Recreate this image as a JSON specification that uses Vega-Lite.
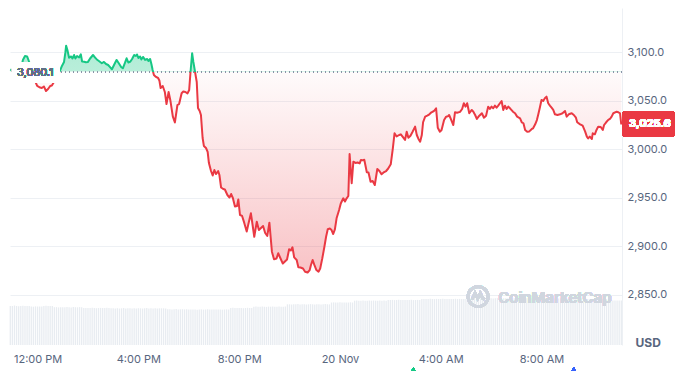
{
"$schema":"https://vega.github.io/schema/vega-lite/v6.json",
"autosize":{"type":"none"},
"padding":{"left":10,"top":8,"right":67,"bottom":26},
"width":612,"height":337,
"background":"#ffffff",
"config":{"view":{"stroke":null},"font":"Inter","axis":{"labelFont":"Inter","titleFont":"Inter"}},
"datasets":{
"price":[
{"t":"2024-11-19T10:55Z","p":3082.3},{"t":"2024-11-19T10:59Z","p":3081.2},{"t":"2024-11-19T11:06Z","p":3077.6},{"t":"2024-11-19T11:13Z","p":3076.6},{"t":"2024-11-19T11:20Z","p":3081.8},{"t":"2024-11-19T11:25Z","p":3092.1},{"t":"2024-11-19T11:30Z","p":3096.2},{"t":"2024-11-19T11:35Z","p":3095.7},{"t":"2024-11-19T11:40Z","p":3090.0},{"t":"2024-11-19T11:44Z","p":3081.8},
{"t":"2024-11-19T11:51Z","p":3073.5},{"t":"2024-11-19T11:59Z","p":3065.3},{"t":"2024-11-19T12:06Z","p":3063.7},{"t":"2024-11-19T12:10Z","p":3063.2},{"t":"2024-11-19T12:15Z","p":3064.8},{"t":"2024-11-19T12:20Z","p":3060.1},{"t":"2024-11-19T12:25Z","p":3062.2},{"t":"2024-11-19T12:30Z","p":3065.3},{"t":"2024-11-19T12:34Z","p":3065.8},{"t":"2024-11-19T12:39Z","p":3069.4},
{"t":"2024-11-19T12:44Z","p":3073.5},{"t":"2024-11-19T12:49Z","p":3077.6},{"t":"2024-11-19T12:53Z","p":3080.7},{"t":"2024-11-19T12:58Z","p":3085.9},{"t":"2024-11-19T13:03Z","p":3090.0},{"t":"2024-11-19T13:06Z","p":3099.3},{"t":"2024-11-19T13:08Z","p":3106.8},{"t":"2024-11-19T13:11Z","p":3102.4},{"t":"2024-11-19T13:15Z","p":3094.4},{"t":"2024-11-19T13:20Z","p":3095.7},
{"t":"2024-11-19T13:23Z","p":3093.6},{"t":"2024-11-19T13:27Z","p":3097.2},{"t":"2024-11-19T13:30Z","p":3093.6},{"t":"2024-11-19T13:34Z","p":3096.2},{"t":"2024-11-19T13:39Z","p":3094.6},{"t":"2024-11-19T13:43Z","p":3097.9},{"t":"2024-11-19T13:46Z","p":3090.5},{"t":"2024-11-19T13:51Z","p":3090.3},{"t":"2024-11-19T13:55Z","p":3089.8},{"t":"2024-11-19T14:00Z","p":3090.1},
{"t":"2024-11-19T14:05Z","p":3093.6},{"t":"2024-11-19T14:12Z","p":3097.2},{"t":"2024-11-19T14:17Z","p":3094.6},{"t":"2024-11-19T14:21Z","p":3092.6},{"t":"2024-11-19T14:26Z","p":3091.0},{"t":"2024-11-19T14:33Z","p":3088.7},{"t":"2024-11-19T14:38Z","p":3090.0},{"t":"2024-11-19T14:43Z","p":3087.9},{"t":"2024-11-19T14:48Z","p":3086.9},{"t":"2024-11-19T14:52Z","p":3084.9},
{"t":"2024-11-19T14:57Z","p":3082.5},{"t":"2024-11-19T15:02Z","p":3086.9},{"t":"2024-11-19T15:08Z","p":3092.1},{"t":"2024-11-19T15:13Z","p":3089.0},{"t":"2024-11-19T15:19Z","p":3084.9},{"t":"2024-11-19T15:23Z","p":3083.5},{"t":"2024-11-19T15:28Z","p":3089.0},{"t":"2024-11-19T15:32Z","p":3093.8},{"t":"2024-11-19T15:36Z","p":3089.5},{"t":"2024-11-19T15:41Z","p":3090.5},
{"t":"2024-11-19T15:45Z","p":3093.1},{"t":"2024-11-19T15:50Z","p":3097.2},{"t":"2024-11-19T15:54Z","p":3096.2},{"t":"2024-11-19T15:57Z","p":3097.7},{"t":"2024-11-19T16:00Z","p":3094.1},{"t":"2024-11-19T16:04Z","p":3095.7},{"t":"2024-11-19T16:07Z","p":3092.6},{"t":"2024-11-19T16:11Z","p":3095.2},{"t":"2024-11-19T16:16Z","p":3092.1},{"t":"2024-11-19T16:21Z","p":3093.1},
{"t":"2024-11-19T16:24Z","p":3091.0},{"t":"2024-11-19T16:28Z","p":3093.1},{"t":"2024-11-19T16:31Z","p":3088.0},{"t":"2024-11-19T16:34Z","p":3081.8},{"t":"2024-11-19T16:37Z","p":3076.6},{"t":"2024-11-19T16:42Z","p":3074.6},{"t":"2024-11-19T16:47Z","p":3073.5},{"t":"2024-11-19T16:50Z","p":3071.0},{"t":"2024-11-19T16:53Z","p":3063.2},{"t":"2024-11-19T16:58Z","p":3065.3},
{"t":"2024-11-19T17:03Z","p":3059.1},{"t":"2024-11-19T17:07Z","p":3046.7},{"t":"2024-11-19T17:12Z","p":3059.1},{"t":"2024-11-19T17:16Z","p":3050.9},{"t":"2024-11-19T17:22Z","p":3033.9},{"t":"2024-11-19T17:27Z","p":3027.7},{"t":"2024-11-19T17:33Z","p":3045.7},{"t":"2024-11-19T17:37Z","p":3046.7},{"t":"2024-11-19T17:43Z","p":3057.8},{"t":"2024-11-19T17:47Z","p":3059.6},
{"t":"2024-11-19T17:52Z","p":3059.1},{"t":"2024-11-19T17:57Z","p":3057.6},{"t":"2024-11-19T18:01Z","p":3061.2},{"t":"2024-11-19T18:04Z","p":3078.7},{"t":"2024-11-19T18:08Z","p":3099.0},{"t":"2024-11-19T18:11Z","p":3090.0},{"t":"2024-11-19T18:15Z","p":3079.7},{"t":"2024-11-19T18:19Z","p":3069.4},{"t":"2024-11-19T18:22Z","p":3042.6},{"t":"2024-11-19T18:26Z","p":3039.5},
{"t":"2024-11-19T18:29Z","p":3035.4},{"t":"2024-11-19T18:33Z","p":3011.7},{"t":"2024-11-19T18:36Z","p":3003.5},{"t":"2024-11-19T18:41Z","p":3001.4},{"t":"2024-11-19T18:45Z","p":2997.3},{"t":"2024-11-19T18:48Z","p":2985.9},{"t":"2024-11-19T18:53Z","p":2977.7},{"t":"2024-11-19T18:57Z","p":2973.1},{"t":"2024-11-19T19:01Z","p":2978.7},{"t":"2024-11-19T19:05Z","p":2974.6},
{"t":"2024-11-19T19:10Z","p":2977.7},{"t":"2024-11-19T19:13Z","p":2973.6},{"t":"2024-11-19T19:17Z","p":2960.7},{"t":"2024-11-19T19:22Z","p":2959.2},{"t":"2024-11-19T19:26Z","p":2958.7},{"t":"2024-11-19T19:32Z","p":2953.0},{"t":"2024-11-19T19:37Z","p":2950.4},{"t":"2024-11-19T19:41Z","p":2954.0},{"t":"2024-11-19T19:45Z","p":2949.9},{"t":"2024-11-19T19:50Z","p":2941.2},
{"t":"2024-11-19T19:55Z","p":2941.7},{"t":"2024-11-19T19:58Z","p":2948.4},{"t":"2024-11-19T20:02Z","p":2932.4},{"t":"2024-11-19T20:07Z","p":2931.4},{"t":"2024-11-19T20:12Z","p":2924.5},{"t":"2024-11-19T20:18Z","p":2915.4},{"t":"2024-11-19T20:22Z","p":2923.1},{"t":"2024-11-19T20:28Z","p":2934.1},{"t":"2024-11-19T20:32Z","p":2922.1},{"t":"2024-11-19T20:36Z","p":2910.0},
{"t":"2024-11-19T20:42Z","p":2925.5},{"t":"2024-11-19T20:47Z","p":2916.9},{"t":"2024-11-19T20:52Z","p":2919.0},{"t":"2024-11-19T20:57Z","p":2921.1},{"t":"2024-11-19T21:02Z","p":2913.9},{"t":"2024-11-19T21:07Z","p":2910.8},{"t":"2024-11-19T21:12Z","p":2924.5},{"t":"2024-11-19T21:18Z","p":2894.6},{"t":"2024-11-19T21:23Z","p":2886.8},{"t":"2024-11-19T21:29Z","p":2887.6},
{"t":"2024-11-19T21:33Z","p":2893.0},{"t":"2024-11-19T21:38Z","p":2888.1},{"t":"2024-11-19T21:44Z","p":2882.4},{"t":"2024-11-19T21:49Z","p":2884.5},{"t":"2024-11-19T21:54Z","p":2886.6},{"t":"2024-11-19T21:59Z","p":2897.1},{"t":"2024-11-19T22:03Z","p":2895.8},{"t":"2024-11-19T22:07Z","p":2899.1},{"t":"2024-11-19T22:11Z","p":2888.8},{"t":"2024-11-19T22:17Z","p":2886.0},
{"t":"2024-11-19T22:21Z","p":2878.5},{"t":"2024-11-19T22:26Z","p":2878.3},{"t":"2024-11-19T22:32Z","p":2877.3},{"t":"2024-11-19T22:37Z","p":2874.0},{"t":"2024-11-19T22:43Z","p":2873.2},{"t":"2024-11-19T22:48Z","p":2875.7},{"t":"2024-11-19T22:51Z","p":2880.9},{"t":"2024-11-19T22:55Z","p":2886.0},{"t":"2024-11-19T23:00Z","p":2879.9},{"t":"2024-11-19T23:04Z","p":2875.7},
{"t":"2024-11-19T23:09Z","p":2874.0},{"t":"2024-11-19T23:13Z","p":2877.3},{"t":"2024-11-19T23:18Z","p":2887.8},{"t":"2024-11-19T23:23Z","p":2899.7},{"t":"2024-11-19T23:27Z","p":2910.0},{"t":"2024-11-19T23:31Z","p":2917.7},{"t":"2024-11-19T23:36Z","p":2918.5},{"t":"2024-11-19T23:40Z","p":2916.9},{"t":"2024-11-19T23:44Z","p":2912.8},{"t":"2024-11-19T23:48Z","p":2917.5},
{"t":"2024-11-19T23:52Z","p":2929.0},{"t":"2024-11-19T23:58Z","p":2937.5},{"t":"2024-11-20T00:02Z","p":2944.2},{"t":"2024-11-20T00:08Z","p":2949.6},{"t":"2024-11-20T00:12Z","p":2946.3},{"t":"2024-11-20T00:16Z","p":2949.6},{"t":"2024-11-20T00:20Z","p":2952.0},{"t":"2024-11-20T00:23Z","p":2995.2},{"t":"2024-11-20T00:28Z","p":2965.1},{"t":"2024-11-20T00:32Z","p":2987.3},
{"t":"2024-11-20T00:37Z","p":2986.0},{"t":"2024-11-20T00:42Z","p":2986.5},{"t":"2024-11-20T00:47Z","p":2985.5},{"t":"2024-11-20T00:50Z","p":2989.1},{"t":"2024-11-20T00:54Z","p":2988.7},{"t":"2024-11-20T00:58Z","p":2989.3},{"t":"2024-11-20T01:04Z","p":2976.4},{"t":"2024-11-20T01:08Z","p":2976.2},{"t":"2024-11-20T01:13Z","p":2966.7},{"t":"2024-11-20T01:18Z","p":2967.4},
{"t":"2024-11-20T01:23Z","p":2963.3},{"t":"2024-11-20T01:29Z","p":2979.8},{"t":"2024-11-20T01:34Z","p":2977.7},{"t":"2024-11-20T01:39Z","p":2974.3},{"t":"2024-11-20T01:44Z","p":2976.2},{"t":"2024-11-20T01:50Z","p":2977.7},{"t":"2024-11-20T01:55Z","p":2980.3},{"t":"2024-11-20T02:01Z","p":2984.6},{"t":"2024-11-20T02:06Z","p":3001.1},{"t":"2024-11-20T02:10Z","p":3016.6},
{"t":"2024-11-20T02:15Z","p":3013.3},{"t":"2024-11-20T02:21Z","p":3014.8},{"t":"2024-11-20T02:25Z","p":3015.5},{"t":"2024-11-20T02:31Z","p":3012.0},{"t":"2024-11-20T02:35Z","p":3009.7},{"t":"2024-11-20T02:39Z","p":3018.2},{"t":"2024-11-20T02:43Z","p":3012.0},{"t":"2024-11-20T02:48Z","p":3014.1},{"t":"2024-11-20T02:53Z","p":3018.2},{"t":"2024-11-20T02:59Z","p":3023.4},
{"t":"2024-11-20T03:03Z","p":3014.8},{"t":"2024-11-20T03:07Z","p":3010.7},{"t":"2024-11-20T03:11Z","p":3007.9},{"t":"2024-11-20T03:15Z","p":3014.8},{"t":"2024-11-20T03:18Z","p":3027.9},{"t":"2024-11-20T03:23Z","p":3033.7},{"t":"2024-11-20T03:28Z","p":3034.7},{"t":"2024-11-20T03:33Z","p":3036.1},{"t":"2024-11-20T03:38Z","p":3038.2},{"t":"2024-11-20T03:44Z","p":3039.5},
{"t":"2024-11-20T03:49Z","p":3042.3},{"t":"2024-11-20T03:53Z","p":3022.3},{"t":"2024-11-20T03:58Z","p":3018.2},{"t":"2024-11-20T04:02Z","p":3020.0},{"t":"2024-11-20T04:08Z","p":3030.3},{"t":"2024-11-20T04:13Z","p":3033.7},{"t":"2024-11-20T04:17Z","p":3034.0},{"t":"2024-11-20T04:20Z","p":3035.4},{"t":"2024-11-20T04:24Z","p":3031.3},{"t":"2024-11-20T04:30Z","p":3025.1},
{"t":"2024-11-20T04:34Z","p":3038.2},{"t":"2024-11-20T04:39Z","p":3037.8},{"t":"2024-11-20T04:46Z","p":3038.6},{"t":"2024-11-20T04:51Z","p":3041.6},{"t":"2024-11-20T04:55Z","p":3047.5},{"t":"2024-11-20T04:59Z","p":3044.0},{"t":"2024-11-20T05:03Z","p":3047.5},{"t":"2024-11-20T05:08Z","p":3037.2},{"t":"2024-11-20T05:14Z","p":3040.6},{"t":"2024-11-20T05:18Z","p":3038.5},
{"t":"2024-11-20T05:22Z","p":3035.4},{"t":"2024-11-20T05:26Z","p":3031.3},{"t":"2024-11-20T05:32Z","p":3034.7},{"t":"2024-11-20T05:38Z","p":3037.2},{"t":"2024-11-20T05:43Z","p":3032.6},{"t":"2024-11-20T05:48Z","p":3034.7},{"t":"2024-11-20T05:53Z","p":3044.0},{"t":"2024-11-20T05:57Z","p":3041.6},{"t":"2024-11-20T06:01Z","p":3044.0},{"t":"2024-11-20T06:05Z","p":3042.3},
{"t":"2024-11-20T06:09Z","p":3045.0},{"t":"2024-11-20T06:13Z","p":3042.9},{"t":"2024-11-20T06:17Z","p":3045.0},{"t":"2024-11-20T06:21Z","p":3047.5},{"t":"2024-11-20T06:25Z","p":3049.8},{"t":"2024-11-20T06:29Z","p":3040.6},{"t":"2024-11-20T06:33Z","p":3045.0},{"t":"2024-11-20T06:37Z","p":3041.6},{"t":"2024-11-20T06:41Z","p":3044.0},{"t":"2024-11-20T06:45Z","p":3042.3},
{"t":"2024-11-20T06:52Z","p":3038.8},{"t":"2024-11-20T06:57Z","p":3037.2},{"t":"2024-11-20T07:02Z","p":3033.7},{"t":"2024-11-20T07:09Z","p":3032.0},{"t":"2024-11-20T07:13Z","p":3027.9},{"t":"2024-11-20T07:17Z","p":3026.9},{"t":"2024-11-20T07:21Z","p":3020.0},{"t":"2024-11-20T07:26Z","p":3018.2},{"t":"2024-11-20T07:31Z","p":3018.5},{"t":"2024-11-20T07:37Z","p":3021.0},
{"t":"2024-11-20T07:40Z","p":3021.7},{"t":"2024-11-20T07:45Z","p":3025.8},{"t":"2024-11-20T07:49Z","p":3030.2},{"t":"2024-11-20T07:52Z","p":3035.4},{"t":"2024-11-20T07:56Z","p":3042.9},{"t":"2024-11-20T08:00Z","p":3050.9},{"t":"2024-11-20T08:04Z","p":3049.8},{"t":"2024-11-20T08:08Z","p":3052.6},{"t":"2024-11-20T08:12Z","p":3054.3},{"t":"2024-11-20T08:16Z","p":3047.5},
{"t":"2024-11-20T08:20Z","p":3045.0},{"t":"2024-11-20T08:24Z","p":3042.9},{"t":"2024-11-20T08:28Z","p":3040.6},{"t":"2024-11-20T08:32Z","p":3036.1},{"t":"2024-11-20T08:38Z","p":3035.4},{"t":"2024-11-20T08:44Z","p":3036.1},{"t":"2024-11-20T08:50Z","p":3037.2},{"t":"2024-11-20T08:56Z","p":3039.5},{"t":"2024-11-20T09:00Z","p":3033.7},{"t":"2024-11-20T09:05Z","p":3036.1},
{"t":"2024-11-20T09:12Z","p":3037.2},{"t":"2024-11-20T09:17Z","p":3035.4},{"t":"2024-11-20T09:22Z","p":3032.6},{"t":"2024-11-20T09:25Z","p":3027.9},{"t":"2024-11-20T09:32Z","p":3025.8},{"t":"2024-11-20T09:38Z","p":3024.4},{"t":"2024-11-20T09:44Z","p":3018.2},{"t":"2024-11-20T09:48Z","p":3013.1},{"t":"2024-11-20T09:51Z","p":3011.3},{"t":"2024-11-20T09:55Z","p":3013.1},
{"t":"2024-11-20T10:00Z","p":3010.7},{"t":"2024-11-20T10:02Z","p":3016.5},{"t":"2024-11-20T10:07Z","p":3015.5},{"t":"2024-11-20T10:11Z","p":3020.0},{"t":"2024-11-20T10:15Z","p":3023.4},{"t":"2024-11-20T10:21Z","p":3023.0},{"t":"2024-11-20T10:26Z","p":3020.0},{"t":"2024-11-20T10:29Z","p":3025.1},{"t":"2024-11-20T10:34Z","p":3027.9},{"t":"2024-11-20T10:39Z","p":3030.3},
{"t":"2024-11-20T10:43Z","p":3031.3},{"t":"2024-11-20T10:47Z","p":3033.7},{"t":"2024-11-20T10:51Z","p":3037.2},{"t":"2024-11-20T10:59Z","p":3038.8},{"t":"2024-11-20T11:03Z","p":3038.2},{"t":"2024-11-20T11:07Z","p":3037.2},{"t":"2024-11-20T11:10Z","p":3025.6}
],
"vol":[
{"t":"2024-11-19T10:55Z","v":39},
{"t":"2024-11-19T11:00Z","v":39},{"t":"2024-11-19T11:05Z","v":39.5},{"t":"2024-11-19T11:10Z","v":39},{"t":"2024-11-19T11:15Z","v":38.8},{"t":"2024-11-19T11:20Z","v":39},{"t":"2024-11-19T11:25Z","v":39.3},{"t":"2024-11-19T11:30Z","v":39},{"t":"2024-11-19T11:35Z","v":38.9},{"t":"2024-11-19T11:40Z","v":39},{"t":"2024-11-19T11:45Z","v":38.5},{"t":"2024-11-19T11:50Z","v":38.3},{"t":"2024-11-19T11:55Z","v":38.6},
{"t":"2024-11-19T12:00Z","v":38.5},{"t":"2024-11-19T12:05Z","v":38.4},{"t":"2024-11-19T12:10Z","v":38.6},{"t":"2024-11-19T12:15Z","v":39},{"t":"2024-11-19T12:20Z","v":39.2},{"t":"2024-11-19T12:25Z","v":39},{"t":"2024-11-19T12:30Z","v":38.9},{"t":"2024-11-19T12:35Z","v":39.1},{"t":"2024-11-19T12:40Z","v":37.8},{"t":"2024-11-19T12:45Z","v":37.9},{"t":"2024-11-19T12:50Z","v":37.6},{"t":"2024-11-19T12:55Z","v":37.8},
{"t":"2024-11-19T13:00Z","v":37.8},{"t":"2024-11-19T13:05Z","v":37.7},{"t":"2024-11-19T13:10Z","v":38},{"t":"2024-11-19T13:15Z","v":37.8},{"t":"2024-11-19T13:20Z","v":37.6},{"t":"2024-11-19T13:25Z","v":37.9},{"t":"2024-11-19T13:30Z","v":37.8},{"t":"2024-11-19T13:35Z","v":37.7},{"t":"2024-11-19T13:40Z","v":37.9},{"t":"2024-11-19T13:45Z","v":37.8},{"t":"2024-11-19T13:50Z","v":37},{"t":"2024-11-19T13:55Z","v":37.1},
{"t":"2024-11-19T14:00Z","v":36.9},{"t":"2024-11-19T14:05Z","v":37},{"t":"2024-11-19T14:10Z","v":37.2},{"t":"2024-11-19T14:15Z","v":37},{"t":"2024-11-19T14:20Z","v":36.8},{"t":"2024-11-19T14:25Z","v":37},{"t":"2024-11-19T14:30Z","v":37.1},{"t":"2024-11-19T14:35Z","v":36.9},{"t":"2024-11-19T14:40Z","v":37},{"t":"2024-11-19T14:45Z","v":37.2},{"t":"2024-11-19T14:50Z","v":37},{"t":"2024-11-19T14:55Z","v":36.7},
{"t":"2024-11-19T15:00Z","v":36.7},{"t":"2024-11-19T15:05Z","v":36.6},{"t":"2024-11-19T15:10Z","v":36.8},{"t":"2024-11-19T15:15Z","v":36.5},{"t":"2024-11-19T15:20Z","v":36.7},{"t":"2024-11-19T15:25Z","v":36.9},{"t":"2024-11-19T15:30Z","v":36.6},{"t":"2024-11-19T15:35Z","v":36.7},{"t":"2024-11-19T15:40Z","v":36.8},{"t":"2024-11-19T15:45Z","v":36.5},{"t":"2024-11-19T15:50Z","v":36.7},{"t":"2024-11-19T15:55Z","v":36.6},
{"t":"2024-11-19T16:00Z","v":36.8},{"t":"2024-11-19T16:05Z","v":36.7},{"t":"2024-11-19T16:10Z","v":36.5},{"t":"2024-11-19T16:15Z","v":36.7},{"t":"2024-11-19T16:20Z","v":36.9},{"t":"2024-11-19T16:25Z","v":36.6},{"t":"2024-11-19T16:30Z","v":36.7},{"t":"2024-11-19T16:35Z","v":36.5},{"t":"2024-11-19T16:40Z","v":36.8},{"t":"2024-11-19T16:45Z","v":36.6},{"t":"2024-11-19T16:50Z","v":36.7},{"t":"2024-11-19T16:55Z","v":36.7},
{"t":"2024-11-19T17:00Z","v":36.7},{"t":"2024-11-19T17:05Z","v":36.6},{"t":"2024-11-19T17:10Z","v":35.7},{"t":"2024-11-19T17:15Z","v":35.8},{"t":"2024-11-19T17:20Z","v":35.5},{"t":"2024-11-19T17:25Z","v":35.7},{"t":"2024-11-19T17:30Z","v":35.9},{"t":"2024-11-19T17:35Z","v":35.6},{"t":"2024-11-19T17:40Z","v":35.7},{"t":"2024-11-19T17:45Z","v":35.8},{"t":"2024-11-19T17:50Z","v":35.6},{"t":"2024-11-19T17:55Z","v":35.7},
{"t":"2024-11-19T18:00Z","v":35.5},{"t":"2024-11-19T18:05Z","v":35.4},{"t":"2024-11-19T18:10Z","v":35.6},{"t":"2024-11-19T18:15Z","v":35.5},{"t":"2024-11-19T18:20Z","v":35.3},{"t":"2024-11-19T18:25Z","v":35.5},{"t":"2024-11-19T18:30Z","v":35.6},{"t":"2024-11-19T18:35Z","v":35.4},{"t":"2024-11-19T18:40Z","v":35.5},{"t":"2024-11-19T18:45Z","v":35.7},{"t":"2024-11-19T18:50Z","v":35.5},{"t":"2024-11-19T18:55Z","v":35.4},
{"t":"2024-11-19T19:00Z","v":35.5},{"t":"2024-11-19T19:05Z","v":35.6},{"t":"2024-11-19T19:10Z","v":35.4},{"t":"2024-11-19T19:15Z","v":35.5},{"t":"2024-11-19T19:20Z","v":35.3},{"t":"2024-11-19T19:25Z","v":35.5},{"t":"2024-11-19T19:30Z","v":35.6},{"t":"2024-11-19T19:35Z","v":35.5},{"t":"2024-11-19T19:40Z","v":37},{"t":"2024-11-19T19:45Z","v":37.2},{"t":"2024-11-19T19:50Z","v":36.9},{"t":"2024-11-19T19:55Z","v":37},
{"t":"2024-11-19T20:00Z","v":37.1},{"t":"2024-11-19T20:05Z","v":37},{"t":"2024-11-19T20:10Z","v":36.8},{"t":"2024-11-19T20:15Z","v":37},{"t":"2024-11-19T20:20Z","v":37.2},{"t":"2024-11-19T20:25Z","v":37},{"t":"2024-11-19T20:30Z","v":37.1},{"t":"2024-11-19T20:35Z","v":38.3},{"t":"2024-11-19T20:40Z","v":38.5},{"t":"2024-11-19T20:45Z","v":38.2},{"t":"2024-11-19T20:50Z","v":38.3},{"t":"2024-11-19T20:55Z","v":38.4},
{"t":"2024-11-19T21:00Z","v":38.3},{"t":"2024-11-19T21:05Z","v":38.1},{"t":"2024-11-19T21:10Z","v":38.4},{"t":"2024-11-19T21:15Z","v":38.3},{"t":"2024-11-19T21:20Z","v":38.5},{"t":"2024-11-19T21:25Z","v":38.2},{"t":"2024-11-19T21:30Z","v":38.3},{"t":"2024-11-19T21:35Z","v":38.4},{"t":"2024-11-19T21:40Z","v":38.2},{"t":"2024-11-19T21:45Z","v":38.3},{"t":"2024-11-19T21:50Z","v":38.5},{"t":"2024-11-19T21:55Z","v":40.7},
{"t":"2024-11-19T22:00Z","v":40.7},{"t":"2024-11-19T22:05Z","v":40.5},{"t":"2024-11-19T22:10Z","v":40.8},{"t":"2024-11-19T22:15Z","v":40.7},{"t":"2024-11-19T22:20Z","v":40.9},{"t":"2024-11-19T22:25Z","v":40.6},{"t":"2024-11-19T22:30Z","v":40.7},{"t":"2024-11-19T22:35Z","v":40.8},{"t":"2024-11-19T22:40Z","v":40.5},{"t":"2024-11-19T22:45Z","v":40.7},{"t":"2024-11-19T22:50Z","v":40.9},{"t":"2024-11-19T22:55Z","v":40.7},
{"t":"2024-11-19T23:00Z","v":40.6},{"t":"2024-11-19T23:05Z","v":40.8},{"t":"2024-11-19T23:10Z","v":40.7},{"t":"2024-11-19T23:15Z","v":40.5},{"t":"2024-11-19T23:20Z","v":40.7},{"t":"2024-11-19T23:25Z","v":40.9},{"t":"2024-11-19T23:30Z","v":40.7},{"t":"2024-11-19T23:35Z","v":40.6},{"t":"2024-11-19T23:40Z","v":42.5},{"t":"2024-11-19T23:45Z","v":42.6},{"t":"2024-11-19T23:50Z","v":42.4},{"t":"2024-11-19T23:55Z","v":42.5},
{"t":"2024-11-20T00:00Z","v":42.7},{"t":"2024-11-20T00:05Z","v":42.5},{"t":"2024-11-20T00:10Z","v":42.4},{"t":"2024-11-20T00:15Z","v":42.6},{"t":"2024-11-20T00:20Z","v":42.5},{"t":"2024-11-20T00:25Z","v":42.7},{"t":"2024-11-20T00:30Z","v":42.5},{"t":"2024-11-20T00:35Z","v":44.3},{"t":"2024-11-20T00:40Z","v":44.4},{"t":"2024-11-20T00:45Z","v":44.2},{"t":"2024-11-20T00:50Z","v":44.3},{"t":"2024-11-20T00:55Z","v":44.5},
{"t":"2024-11-20T01:00Z","v":44.3},{"t":"2024-11-20T01:05Z","v":44.2},{"t":"2024-11-20T01:10Z","v":44.4},{"t":"2024-11-20T01:15Z","v":44.3},{"t":"2024-11-20T01:20Z","v":44.5},{"t":"2024-11-20T01:25Z","v":44.3},{"t":"2024-11-20T01:30Z","v":44.2},{"t":"2024-11-20T01:35Z","v":44.4},{"t":"2024-11-20T01:40Z","v":44.3},{"t":"2024-11-20T01:45Z","v":44.5},{"t":"2024-11-20T01:50Z","v":44.3},{"t":"2024-11-20T01:55Z","v":45},
{"t":"2024-11-20T02:00Z","v":45},{"t":"2024-11-20T02:05Z","v":45.1},{"t":"2024-11-20T02:10Z","v":44.9},{"t":"2024-11-20T02:15Z","v":45},{"t":"2024-11-20T02:20Z","v":45.2},{"t":"2024-11-20T02:25Z","v":45},{"t":"2024-11-20T02:30Z","v":44.9},{"t":"2024-11-20T02:35Z","v":45.1},{"t":"2024-11-20T02:40Z","v":45},{"t":"2024-11-20T02:45Z","v":45},{"t":"2024-11-20T02:50Z","v":45.2},{"t":"2024-11-20T02:55Z","v":44.9},
{"t":"2024-11-20T03:00Z","v":45},{"t":"2024-11-20T03:05Z","v":45.1},{"t":"2024-11-20T03:10Z","v":45},{"t":"2024-11-20T03:15Z","v":46},{"t":"2024-11-20T03:20Z","v":46.1},{"t":"2024-11-20T03:25Z","v":45.9},{"t":"2024-11-20T03:30Z","v":46},{"t":"2024-11-20T03:35Z","v":46.2},{"t":"2024-11-20T03:40Z","v":46},{"t":"2024-11-20T03:45Z","v":45.9},{"t":"2024-11-20T03:50Z","v":46.1},{"t":"2024-11-20T03:55Z","v":46},
{"t":"2024-11-20T04:00Z","v":46},{"t":"2024-11-20T04:05Z","v":46.2},{"t":"2024-11-20T04:10Z","v":45.9},{"t":"2024-11-20T04:15Z","v":46},{"t":"2024-11-20T04:20Z","v":46.1},{"t":"2024-11-20T04:25Z","v":46},{"t":"2024-11-20T04:30Z","v":45.9},{"t":"2024-11-20T04:35Z","v":46.2},{"t":"2024-11-20T04:40Z","v":46},{"t":"2024-11-20T04:45Z","v":46.1},{"t":"2024-11-20T04:50Z","v":45.9},{"t":"2024-11-20T04:55Z","v":46},
{"t":"2024-11-20T05:00Z","v":46.1},{"t":"2024-11-20T05:05Z","v":46},{"t":"2024-11-20T05:10Z","v":46.7},{"t":"2024-11-20T05:15Z","v":46.8},{"t":"2024-11-20T05:20Z","v":46.6},{"t":"2024-11-20T05:25Z","v":46.7},{"t":"2024-11-20T05:30Z","v":46.9},{"t":"2024-11-20T05:35Z","v":46.7},{"t":"2024-11-20T05:40Z","v":46.6},{"t":"2024-11-20T05:45Z","v":46.8},{"t":"2024-11-20T05:50Z","v":46.7},{"t":"2024-11-20T05:55Z","v":46.7},
{"t":"2024-11-20T06:00Z","v":46.8},{"t":"2024-11-20T06:05Z","v":46.6},{"t":"2024-11-20T06:10Z","v":46.7},{"t":"2024-11-20T06:15Z","v":46.9},{"t":"2024-11-20T06:20Z","v":46.7},{"t":"2024-11-20T06:25Z","v":46.6},{"t":"2024-11-20T06:30Z","v":46.8},{"t":"2024-11-20T06:35Z","v":46.7},{"t":"2024-11-20T06:40Z","v":46.7},{"t":"2024-11-20T06:45Z","v":46.9},{"t":"2024-11-20T06:50Z","v":46.6},{"t":"2024-11-20T06:55Z","v":46.7},
{"t":"2024-11-20T07:00Z","v":46.7},{"t":"2024-11-20T07:05Z","v":46.8},{"t":"2024-11-20T07:10Z","v":46.6},{"t":"2024-11-20T07:15Z","v":46.7},{"t":"2024-11-20T07:20Z","v":46.9},{"t":"2024-11-20T07:25Z","v":46.7},{"t":"2024-11-20T07:30Z","v":46.6},{"t":"2024-11-20T07:35Z","v":46.8},{"t":"2024-11-20T07:40Z","v":46.7},{"t":"2024-11-20T07:45Z","v":46.7},{"t":"2024-11-20T07:50Z","v":46.8},{"t":"2024-11-20T07:55Z","v":46.6},
{"t":"2024-11-20T08:00Z","v":46.7},{"t":"2024-11-20T08:05Z","v":46.9},{"t":"2024-11-20T08:10Z","v":46.7},{"t":"2024-11-20T08:15Z","v":46.6},{"t":"2024-11-20T08:20Z","v":46.8},{"t":"2024-11-20T08:25Z","v":46.7},{"t":"2024-11-20T08:30Z","v":46.7},{"t":"2024-11-20T08:35Z","v":46.9},{"t":"2024-11-20T08:40Z","v":46.6},{"t":"2024-11-20T08:45Z","v":46.7},{"t":"2024-11-20T08:50Z","v":46.8},{"t":"2024-11-20T08:55Z","v":46.7},
{"t":"2024-11-20T09:00Z","v":46.7},{"t":"2024-11-20T09:05Z","v":46.6},{"t":"2024-11-20T09:10Z","v":46.8},{"t":"2024-11-20T09:15Z","v":46.7},{"t":"2024-11-20T09:20Z","v":46.9},{"t":"2024-11-20T09:25Z","v":46.7},{"t":"2024-11-20T09:30Z","v":46.6},{"t":"2024-11-20T09:35Z","v":46.8},{"t":"2024-11-20T09:40Z","v":46.7},{"t":"2024-11-20T09:45Z","v":46.7},{"t":"2024-11-20T09:50Z","v":46},{"t":"2024-11-20T09:55Z","v":46.1},
{"t":"2024-11-20T10:00Z","v":45.9},{"t":"2024-11-20T10:05Z","v":46},{"t":"2024-11-20T10:10Z","v":46.1},{"t":"2024-11-20T10:15Z","v":46},{"t":"2024-11-20T10:20Z","v":45.9},{"t":"2024-11-20T10:25Z","v":46.2},{"t":"2024-11-20T10:30Z","v":46},{"t":"2024-11-20T10:35Z","v":46},{"t":"2024-11-20T10:40Z","v":46.1},{"t":"2024-11-20T10:45Z","v":44.5},{"t":"2024-11-20T10:50Z","v":44.6},{"t":"2024-11-20T10:55Z","v":44.4},
{"t":"2024-11-20T11:00Z","v":44.5},{"t":"2024-11-20T11:05Z","v":44.6},{"t":"2024-11-20T11:10Z","v":44.5}
]
},
"resolve":{"scale":{"y":"independent"}},
"layer":[
{"data":{"name":"vol"},
 "mark":{"type":"bar","size":1.3,"fill":"#e8ecf1"},
 "encoding":{
  "x":{"field":"t","type":"temporal",
   "scale":{"type":"utc","nice":false,"padding":0,"domain":[{"year":2024,"month":11,"date":19,"hours":10,"minutes":54,"seconds":18,"utc":true},{"year":2024,"month":11,"date":20,"hours":11,"minutes":11,"seconds":42,"utc":true}]},
   "axis":{"values":[{"year":2024,"month":11,"date":19,"hours":12,"utc":true},{"year":2024,"month":11,"date":19,"hours":16,"utc":true},{"year":2024,"month":11,"date":19,"hours":20,"utc":true},{"year":2024,"month":11,"date":20,"hours":0,"utc":true},{"year":2024,"month":11,"date":20,"hours":4,"utc":true},{"year":2024,"month":11,"date":20,"hours":8,"utc":true}],
    "labelExpr":"utcFormat(datum.value, utchours(datum.value) == 0 ? '%-d %b' : '%-I:%M %p')",
    "domain":false,"ticks":false,"tickSize":0,"grid":false,"labelPadding":8,"labelFontSize":11,"labelColor":"#58667e","title":null,"labelFlush":false,"labelOverlap":false}},
  "y":{"field":"v","type":"quantitative","scale":{"domain":[0,337],"nice":false,"zero":true},
   "axis":{"orient":"left","labels":false,"ticks":false,"domain":false,"grid":false,"title":null}}
 }},
{"data":{"name":"price"},
 "layer":[
  {"mark":{"type":"area","line":false,"fill":{"gradient":"linear","x1":0,"y1":0,"x2":0,"y2":1,"stops":[{"offset":0,"color":"rgba(22,199,132,0.34)"},{"offset":0.1143,"color":"rgba(22,199,132,0.30)"},{"offset":0.1143,"color":"rgba(234,57,67,0.02)"},{"offset":1,"color":"rgba(234,57,67,0.30)"}]}},
   "encoding":{
    "x":{"field":"t","type":"temporal","scale":{"type":"utc","nice":false}},
    "y":{"field":"p","type":"quantitative","scale":{"domain":[2798.5,3145.6],"nice":false,"zero":false},
     "axis":{"orient":"right","values":[2850,2900,2950,3000,3050,3100],"format":",.1f","grid":true,"gridColor":"#edf0f4","gridWidth":1,"domain":true,"domainColor":"#edf0f4","ticks":false,"tickSize":0,"labelPadding":5,"labelFontSize":11,"labelColor":"#58667e",
      "title":"USD","titleAngle":0,"titleAlign":"left","titleBaseline":"middle","titleX":13,"titleY":334,"titleFontSize":12,"titleFontWeight":"bold","titleColor":"#58667e"}},
    "y2":{"datum":3080.1}}},
  {"mark":{"type":"rule","stroke":"#8a94a6","strokeDash":[1,3],"strokeWidth":1},
   "encoding":{"y":{"datum":3080.1,"type":"quantitative"}}},
  {"mark":{"type":"line","strokeWidth":2,"strokeJoin":"round","stroke":{"gradient":"linear","x1":0,"y1":0,"x2":0,"y2":1,"stops":[{"offset":0,"color":"#16c784"},{"offset":0.1143,"color":"#16c784"},{"offset":0.1143,"color":"#ea3943"},{"offset":1,"color":"#ea3943"}]}},
   "encoding":{
    "x":{"field":"t","type":"temporal","scale":{"type":"utc","nice":false}},
    "y":{"field":"p","type":"quantitative"}}},
  {"mark":{"type":"rect","fill":"#ffffff","opacity":0.85,"cornerRadius":3},
   "encoding":{
    "x":{"datum":{"year":2024,"month":11,"date":19,"hours":10,"minutes":59,"utc":true},"type":"temporal","scale":{"type":"utc","nice":false}},
    "x2":{"datum":{"year":2024,"month":11,"date":19,"hours":12,"minutes":52,"utc":true}},
    "y":{"datum":3089.5,"type":"quantitative"},
    "y2":{"datum":3068.4}}},
  {"mark":{"type":"text","text":"3,080.1","align":"left","baseline":"middle","fontSize":11,"fontWeight":"normal","fill":"#616e85","dy":1.5},
   "encoding":{
    "x":{"datum":{"year":2024,"month":11,"date":19,"hours":11,"minutes":11,"utc":true},"type":"temporal","scale":{"type":"utc","nice":false}},
    "y":{"datum":3080.1,"type":"quantitative"}}},
  {"mark":{"type":"rect","fill":"#ea3943","cornerRadius":4,"width":53,"xOffset":26.5},
   "encoding":{
    "x":{"datum":{"year":2024,"month":11,"date":20,"hours":11,"minutes":11,"seconds":42,"utc":true},"type":"temporal","scale":{"type":"utc","nice":false}},
    "y":{"datum":3039.5,"type":"quantitative"},
    "y2":{"datum":3012.7}}},
  {"mark":{"type":"text","text":"3,025.6","align":"left","baseline":"middle","fontSize":11,"fontWeight":"bold","fill":"#ffffff","dx":7},
   "encoding":{
    "x":{"datum":{"year":2024,"month":11,"date":20,"hours":11,"minutes":11,"seconds":42,"utc":true},"type":"temporal","scale":{"type":"utc","nice":false}},
    "y":{"datum":3026.0,"type":"quantitative"}}},
  {"mark":{"type":"point","shape":"circle","size":400,"filled":false,"color":"#d0d6df","strokeWidth":2.8,"opacity":1},
   "encoding":{
    "x":{"datum":{"year":2024,"month":11,"date":20,"hours":5,"minutes":29,"utc":true},"type":"temporal","scale":{"type":"utc","nice":false}},
    "y":{"datum":2848.4,"type":"quantitative"}}},
  {"mark":{"type":"point","shape":"M-0.6,0.3L-0.3,-0.35L-0.05,0.2L0.22,-0.35L0.45,0.15L0.65,0.3","size":400,"filled":false,"color":"#d0d6df","strokeWidth":2.6,"opacity":1},
   "encoding":{
    "x":{"datum":{"year":2024,"month":11,"date":20,"hours":5,"minutes":29,"utc":true},"type":"temporal","scale":{"type":"utc","nice":false}},
    "y":{"datum":2848.4,"type":"quantitative"}}},
  {"mark":{"type":"text","text":"CoinMarketCap","align":"left","baseline":"alphabetic","fontSize":15,"fontWeight":600,"fill":"#d0d6df"},
   "encoding":{
    "x":{"datum":{"year":2024,"month":11,"date":20,"hours":6,"minutes":17,"utc":true},"type":"temporal","scale":{"type":"utc","nice":false}},
    "y":{"datum":2842.1,"type":"quantitative"}}},
  {"mark":{"type":"point","shape":"triangle-up","size":40,"filled":true,"color":"#16c784","opacity":1},
   "encoding":{
    "x":{"datum":{"year":2024,"month":11,"date":20,"hours":2,"minutes":55,"utc":true},"type":"temporal","scale":{"type":"utc","nice":false}},
    "y":{"datum":2772.7,"type":"quantitative"}}},
  {"mark":{"type":"point","shape":"triangle-up","size":40,"filled":true,"color":"#3861fb","opacity":1},
   "encoding":{
    "x":{"datum":{"year":2024,"month":11,"date":20,"hours":9,"minutes":17,"utc":true},"type":"temporal","scale":{"type":"utc","nice":false}},
    "y":{"datum":2772.7,"type":"quantitative"}}}
 ]}
]
}
